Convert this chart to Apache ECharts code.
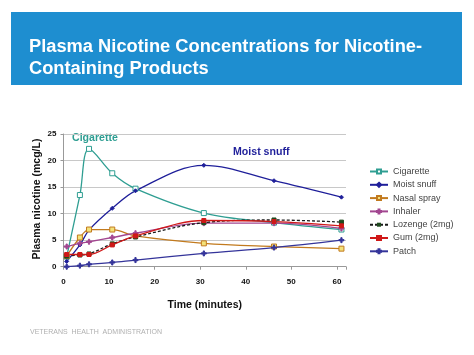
<!DOCTYPE html>
<html><head><meta charset="utf-8">
<script src="https://cdn.jsdelivr.net/npm/echarts@6/dist/echarts.min.js"></script>
<style>html,body{margin:0;padding:0;background:#fff}#c{width:474px;height:355px}</style>
</head><body><div id="c"></div>
<script>
const times = [0.7, 3.6, 5.6, 10.7, 15.8, 30.8, 46.2, 61];
const seriesNames = ['Cigarette','Moist snuff','Nasal spray','Inhaler','Lozenge (2mg)','Gum (2mg)','Patch'];
const cigarette   = [1.9, 13.5, 22.2, 17.6, 14.7, 10.1, 8.3, 7.0];
const moistSnuff  = [1.0, 4.1, 6.9, 11.0, 14.3, 19.1, 16.2, 13.1];
const nasalSpray  = [2.0, 5.5, 7.0, 7.0, 5.8, 4.4, 3.8, 3.4];
const inhaler     = [3.8, 4.4, 4.7, 5.5, 6.3, 8.2, 8.2, 7.2];
const lozenge     = [2.0, 2.2, 2.4, 4.3, 5.6, 8.3, 8.8, 8.4];
const gum         = [2.3, 2.3, 2.3, 4.1, 5.8, 8.7, 8.5, 7.7];
const patch       = [0.0, 0.2, 0.45, 0.8, 1.25, 2.5, 3.6, 5.0];
const xTicks = [0, 10, 20, 30, 40, 50, 60];
const yTicks = [0, 5, 10, 15, 20, 25];

const FONT = '"Liberation Sans", Arial, sans-serif';
const plus = 'path://M3,0H5V3H8V5H5V8H3V5H0V3H3Z';
function pts(arr){ return arr.map((v,i)=>[times[i], v]); }
function mk(name, data, color, opts){
  return Object.assign({
    name, type:'line', data: pts(data), smooth: 0.35,
    symbol:'rect', symbolSize:4, showSymbol:true,
    lineStyle:{color, width:1.3}, itemStyle:{color, borderColor:color, borderWidth:1},
    z: 3
  }, opts||{});
}
const chart = echarts.init(document.getElementById('c'));
chart.setOption({
  animation:false,
  textStyle:{fontFamily:FONT},
  graphic:[
    {type:'rect', shape:{x:11, y:12, width:451, height:73}, style:{fill:'#1E8ED0'}, z:0},
    {type:'text', left:29, top:36, style:{text:'Plasma Nicotine Concentrations for Nicotine-\nContaining Products', fill:'#fff', font:'bold 18.3px '+FONT, lineHeight:22}},
    {type:'text', left:30, top:329, style:{text:'VETERANS  HEALTH  ADMINISTRATION', fill:'#b0b0b0', font:'7px '+FONT}},
    {type:'text', left:72, top:133, style:{text:'Cigarette', fill:'#2f9e92', font:'bold 10.6px '+FONT}},
    {type:'text', left:233, top:147, style:{text:'Moist snuff', fill:'#1f1f9a', font:'bold 10.6px '+FONT}},
    {type:'text', x:37, y:199, rotation:Math.PI/2, style:{text:'Plasma nicotine (mcg/L)', fill:'#111', font:'bold 10.5px '+FONT, align:'center', verticalAlign:'middle'}}
  ],
  grid:{left:63.5, right:128, top:134, bottom:88.3, containLabel:false},
  xAxis:{type:'value', min:0, max:62, interval:10,
    name:'Time (minutes)', nameLocation:'middle', nameGap:33,
    nameTextStyle:{fontWeight:'bold', fontSize:10.5, color:'#111', fontFamily:FONT},
    axisLine:{lineStyle:{color:'#999'}}, axisTick:{show:true, length:3, lineStyle:{color:'#999'}},
    axisLabel:{fontWeight:'bold', fontSize:8, color:'#111', margin:11, formatter:v=> xTicks.includes(v)? String(v):''},
    splitLine:{show:false}},
  yAxis:{type:'value', min:0, max:25, interval:5,
    axisLine:{show:true, lineStyle:{color:'#999'}}, axisTick:{show:true, length:3, lineStyle:{color:'#999'}},
    axisLabel:{fontWeight:'bold', fontSize:8, color:'#111', margin:7, formatter:v=> yTicks.includes(v)? String(v):''},
    splitLine:{show:true, lineStyle:{color:'#c8c8c8', width:1}}},
  legend:{orient:'vertical', left:364, top:162, itemWidth:18, itemHeight:5, itemGap:4.3,
    textStyle:{fontSize:9, color:'#444', fontFamily:FONT}, data:seriesNames},
  series:[
    mk('Cigarette', cigarette, '#2f9e92', {symbolSize:5, itemStyle:{color:'#fff', borderColor:'#2f9e92', borderWidth:1}}),
    mk('Moist snuff', moistSnuff, '#1f1f9a', {symbol:'diamond', symbolSize:4}),
    mk('Nasal spray', nasalSpray, '#c27a1e', {symbolSize:5, itemStyle:{color:'#f3e27a', borderColor:'#c27a1e', borderWidth:1}}),
    mk('Inhaler', inhaler, '#a24690', {symbol:plus, symbolSize:5}),
    mk('Lozenge (2mg)', lozenge, '#1a1a1a', {symbolSize:4, lineStyle:{color:'#1a1a1a', width:1.3, type:[3,2]}, itemStyle:{color:'#1e4a1e', borderColor:'#1e4a1e'}}),
    mk('Gum (2mg)', gum, '#d01818', {symbolSize:4}),
    mk('Patch', patch, '#34349a', {symbol:plus, symbolSize:5})
  ]
});
</script></body></html>
